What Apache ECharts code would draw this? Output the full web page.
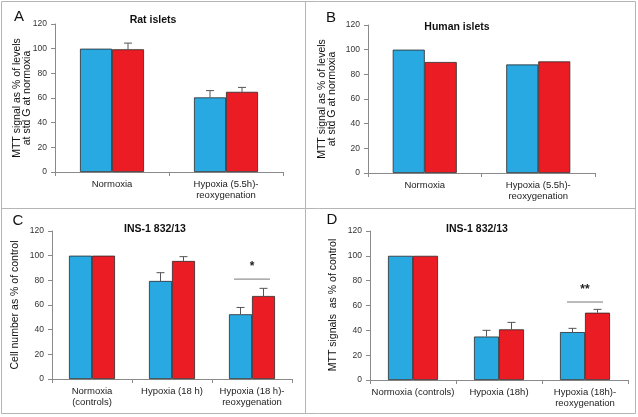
<!DOCTYPE html>
<html><head><meta charset="utf-8">
<script src="https://cdn.jsdelivr.net/npm/echarts@6/dist/echarts.min.js"></script>
<style>html,body{margin:0;padding:0;background:#fff}#c{width:638px;height:417px}</style>
</head><body><div id="c"></div>
<script>
// ---- data ----
const catsAB = ['Normoxia', 'Hypoxia (5.5h)-\nreoxygenation'];
const catsC = ['Normoxia\n(controls)', 'Hypoxia (18 h)', 'Hypoxia (18 h)-\nreoxygenation'];
const catsD = ['Normoxia (controls)', 'Hypoxia (18h)', 'Hypoxia (18h)-\nreoxygenation'];
const yMin = 0, yMax = 120, yStep = 20;

const ratBlue = [100, 60.5];
const ratBlueErr = [0, 5.5];
const ratRed = [99.5, 65];
const ratRedErr = [5, 3.6];

const humanBlue = [100, 88];
const humanRed = [90, 90.5];

const cellBlue = [100, 79.5, 52.5];
const cellBlueErr = [0, 6.7, 5.5];
const cellRed = [100, 95.7, 67.3];
const cellRedErr = [0, 3.5, 6.2];

const mttBlue = [100, 35, 38.6];
const mttBlueErr = [0, 5, 3];
const mttRed = [100, 40.8, 54.2];
const mttRedErr = [0, 5.6, 2.7];

const sigC = [[2, 81, '*']];
const sigD = [[2, 62.8, '**']];

// ---- chart ----
const BLUE = '#29A9E1', RED = '#EC1C24';
const grids = [
  {left: 55, top: 24, width: 228, height: 148},
  {left: 368, top: 25, width: 227, height: 148},
  {left: 52, top: 231, width: 240, height: 148},
  {left: 370, top: 231, width: 258, height: 149}
];
const barW = [32, 32, 23, 25];
const cats = [catsAB, catsAB, catsC, catsD];

const axisColor = '#8a8a8a';
const xAxes = cats.map((c, i) => ({
  type: 'category', gridIndex: i, data: c,
  axisLine: {lineStyle: {color: axisColor}},
  axisTick: {show: true, length: 4, lineStyle: {color: axisColor}},
  axisLabel: {interval: 0, color: '#222', fontSize: 9.5, fontFamily: 'Liberation Sans, Arial', margin: 7, lineHeight: 11}
}));
const yAxes = cats.map((c, i) => ({
  type: 'value', gridIndex: i, min: yMin, max: yMax, interval: yStep,
  axisLine: {show: true, lineStyle: {color: axisColor}},
  axisTick: {show: true, length: 4, lineStyle: {color: axisColor}},
  splitLine: {show: false},
  axisLabel: {color: '#333', fontSize: 8.5, fontFamily: 'Liberation Sans, Arial', margin: 8}
}));

function bar(i, data, color) {
  return {type: 'bar', xAxisIndex: i, yAxisIndex: i, data: data, barWidth: barW[i], barGap: '0%',
    itemStyle: {color: color, borderColor: '#2a2a2a', borderWidth: 0.8}, animation: false, silent: true};
}
function err(i, vals, errs, sign) {
  const data = vals.map((v, k) => [k, v, errs[k]]);
  return {type: 'custom', xAxisIndex: i, yAxisIndex: i, data: data, animation: false, silent: true, z: 5,
    renderItem: function (params, api) {
      const e = api.value(2);
      if (!e) return null;
      const p0 = api.coord([api.value(0), api.value(1)]);
      const p1 = api.coord([api.value(0), api.value(1) + e]);
      const x = p0[0] + sign * barW[i] / 2;
      const st = {stroke: '#555', lineWidth: 1};
      return {type: 'group', children: [
        {type: 'line', shape: {x1: x, y1: p0[1], x2: x, y2: p1[1]}, style: st},
        {type: 'line', shape: {x1: x - 4, y1: p1[1], x2: x + 4, y2: p1[1]}, style: st}
      ]};
    }};
}
function sig(i, data, half) {
  return {type: 'custom', xAxisIndex: i, yAxisIndex: i, data: data, animation: false, silent: true, z: 5,
    renderItem: function (params, api) {
      const p = api.coord([api.value(0), api.value(1)]);
      return {type: 'group', children: [
        {type: 'line', shape: {x1: p[0] - half, y1: p[1], x2: p[0] + half, y2: p[1]}, style: {stroke: '#777', lineWidth: 1}},
        {type: 'text', x: p[0], y: p[1] - 6, style: {text: data[params.dataIndex][2], fill: '#222', font: 'bold 12px Liberation Sans, Arial', textAlign: 'center', textVerticalAlign: 'bottom'}}
      ]};
    }};
}

const series = [
  bar(0, ratBlue, BLUE), bar(0, ratRed, RED), err(0, ratBlue, ratBlueErr, -1), err(0, ratRed, ratRedErr, 1),
  bar(1, humanBlue, BLUE), bar(1, humanRed, RED),
  bar(2, cellBlue, BLUE), bar(2, cellRed, RED), err(2, cellBlue, cellBlueErr, -1), err(2, cellRed, cellRedErr, 1), sig(2, sigC, 18),
  bar(3, mttBlue, BLUE), bar(3, mttRed, RED), err(3, mttBlue, mttBlueErr, -1), err(3, mttRed, mttRedErr, 1), sig(3, sigD, 18)
];

function txt(x, y, text, font, rot) {
  return {type: 'text', x: x, y: y, rotation: rot || 0, silent: true,
    style: {text: text, font: font, fill: '#111', textAlign: 'center', textVerticalAlign: 'middle', lineHeight: 10.5}};
}
const F = 'Liberation Sans, Arial';
const graphic = [
  {type: 'rect', shape: {x: 1.5, y: 1.5, width: 634, height: 412}, style: {fill: 'none', stroke: '#b5b5b5', lineWidth: 1}, silent: true},
  {type: 'line', shape: {x1: 305.5, y1: 1.5, x2: 305.5, y2: 413.5}, style: {stroke: '#b5b5b5', lineWidth: 1}, silent: true},
  {type: 'line', shape: {x1: 1.5, y1: 208.5, x2: 635.5, y2: 208.5}, style: {stroke: '#b5b5b5', lineWidth: 1}, silent: true},
  txt(19, 17, 'A', '15px ' + F), txt(331, 18, 'B', '15px ' + F),
  txt(18, 221, 'C', '15px ' + F), txt(332, 220, 'D', '15px ' + F),
  txt(153, 20, 'Rat islets', 'bold 10.5px ' + F),
  txt(457, 27, 'Human islets', 'bold 10.5px ' + F),
  txt(155, 229, 'INS-1 832/13', 'bold 10.5px ' + F),
  txt(477, 229, 'INS-1 832/13', 'bold 10.5px ' + F),
  txt(22, 98, 'MTT signal as % of levels\nat std G at normoxia', '10.5px ' + F, Math.PI / 2),
  txt(327, 99, 'MTT signal as % of levels\nat std G at normoxia', '10.5px ' + F, Math.PI / 2),
  txt(15, 305, 'Cell number as % of control', '10.5px ' + F, Math.PI / 2),
  txt(333, 305, 'MTT signals  as % of control', '10.5px ' + F, Math.PI / 2)
];

const chart = echarts.init(document.getElementById('c'), null, {renderer: 'canvas'});
chart.setOption({animation: false, grid: grids, xAxis: xAxes, yAxis: yAxes, series: series, graphic: graphic});
</script></body></html>
